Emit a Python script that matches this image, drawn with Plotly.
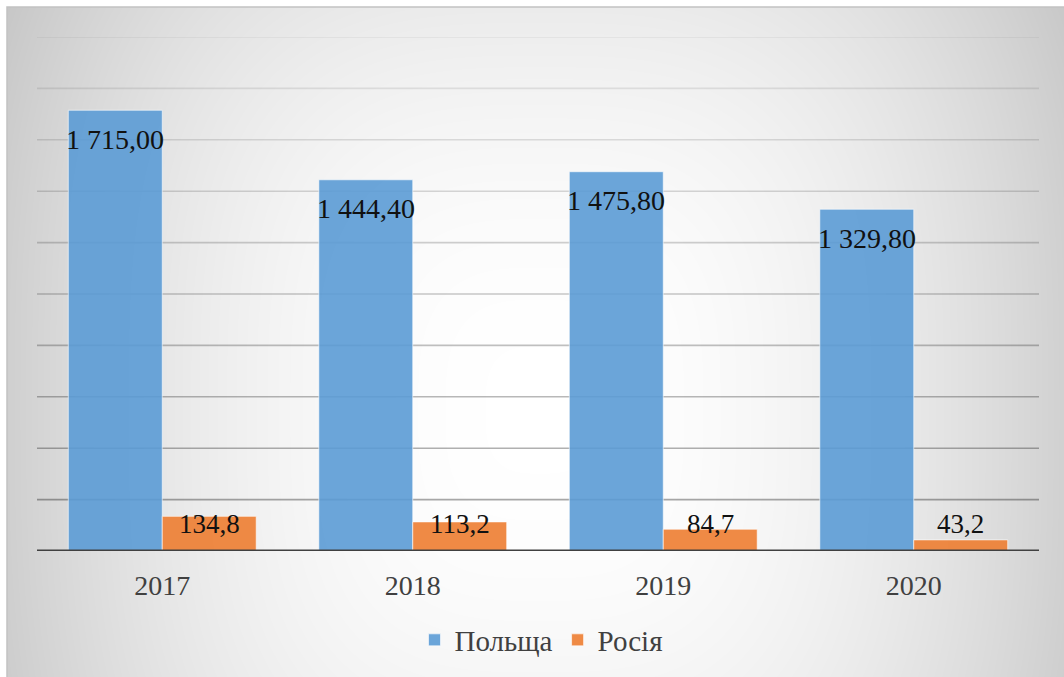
import base64
import struct
import zlib

import numpy as np
import plotly.graph_objects as go

# ---------------- data ----------------
years = ["2017", "2018", "2019", "2020"]
poland = [1715.00, 1444.40, 1475.80, 1329.80]
russia = [134.8, 113.2, 84.7, 43.2]
series_names = ["Польща", "Росія"]
grid_values = [200, 400, 600, 800, 1000, 1200, 1400, 1600, 1800, 2000]

W, H = 1064, 677
FONT = '"Liberation Serif", "Times New Roman", serif'
BLUE = "rgba(91,155,213,0.9)"
ORANGE = "rgba(237,125,49,0.9)"


# ---------------- background gradient image ----------------
def make_png_gray(arr):
    h, w = arr.shape
    raw = b"".join(b"\x00" + bytes(row) for row in arr.astype(np.uint8))

    def chunk(t, d):
        c = struct.pack(">I", len(d)) + t + d
        return c + struct.pack(">I", zlib.crc32(t + d) & 0xFFFFFFFF)

    ihdr = struct.pack(">IIBBBBB", w, h, 8, 0, 0, 0, 0)
    return (b"\x89PNG\r\n\x1a\n" + chunk(b"IHDR", ihdr)
            + chunk(b"IDAT", zlib.compress(raw, 9)) + chunk(b"IEND", b""))


bx0, by0 = 7, 7
bw, bh = W - bx0, H - by0
xs = bx0 + np.arange(bw) + 0.5
ys = by0 + np.arange(bh) + 0.5
X, Y = np.meshgrid(xs, ys)
dx = np.abs(X - 540) / 528
dy = np.abs(Y - 410) / 617
u = (dx ** 3 + dy ** 3) ** (1 / 3)
gray = np.clip(255 - 47 * u ** 2, 190, 255).round()
bg_src = "data:image/png;base64," + base64.b64encode(make_png_gray(gray)).decode()


def fmt_pl(v):
    return f"{v:,.2f}".replace(",", " ").replace(".", ",")


def fmt_ru(v):
    return f"{v:.1f}".replace(".", ",")


fig = go.Figure()
fig.add_trace(go.Bar(
    x=years, y=poland, name=series_names[0],
    marker=dict(color=BLUE, line=dict(color="rgba(255,255,255,0.6)", width=1)),
    hoverinfo="skip",
))
fig.add_trace(go.Bar(
    x=years, y=russia, name=series_names[1],
    marker=dict(color=ORANGE, line=dict(color="rgba(255,255,255,0.6)", width=1)),
    hoverinfo="skip",
))

shapes = []
for v in grid_values:
    a = 0.06 + 0.28 * (2000 - v) / 1800
    shapes.append(dict(type="line", xref="x domain", yref="y", x0=0, x1=1, y0=v, y1=v,
                       line=dict(color=f"rgba(0,0,0,{a:.3f})", width=1.6), layer="below"))
# baseline
shapes.append(dict(type="line", xref="x domain", yref="y", x0=0, x1=1, y0=0, y1=0,
                   line=dict(color="#404040", width=3), layer="above"))
# chart border
shapes.append(dict(type="rect", xref="paper", yref="paper",
                   x0=bx0 / W, x1=1.05, y0=-0.05, y1=1 - by0 / H,
                   line=dict(color="#c2c2c2", width=1.5), layer="above"))

annotations = []
for i, v in enumerate(poland):
    annotations.append(dict(x=i - 0.1875, y=v, xref="x", yref="y", text=fmt_pl(v),
                            showarrow=False, yanchor="middle", yshift=-29,
                            font=dict(family=FONT, size=28, color="#111111")))
for i, v in enumerate(russia):
    annotations.append(dict(x=i + 0.1875, y=0, xref="x", yref="y", text=fmt_ru(v),
                            showarrow=False, yanchor="middle", yshift=27,
                            font=dict(family=FONT, size=27, color="#111111")))

fig.update_layout(
    width=W, height=H,
    margin=dict(l=0, r=0, t=0, b=0),
    paper_bgcolor="white",
    plot_bgcolor="rgba(0,0,0,0)",
    font=dict(family=FONT),
    barmode="group", bargap=0.25, bargroupgap=0,
    images=[dict(source=bg_src, xref="paper", yref="paper", x=bx0 / W, y=1 - by0 / H,
                 sizex=bw / W, sizey=bh / H, sizing="stretch", xanchor="left",
                 yanchor="top", layer="below")],
    xaxis=dict(domain=[37 / W, 1039 / W], showgrid=False, showline=False, ticks="",
               tickfont=dict(family=FONT, size=28, color="#404040"),
               ticklabelstandoff=15, zeroline=False),
    yaxis=dict(domain=[(H - 551) / H, (H - 37) / H], range=[0, 2000], showgrid=False,
               showticklabels=False, zeroline=False, showline=False, ticks=""),
    legend=dict(orientation="h", x=541 / W, xanchor="center", y=(H - 640) / H,
                yanchor="middle", font=dict(family=FONT, size=29, color="#404040"),
                bgcolor="rgba(0,0,0,0)", itemclick=False, itemdoubleclick=False),
    shapes=shapes,
    annotations=annotations,
    showlegend=True,
)

fig.write_html(
    "out.html",
    config={"displayModeBar": False, "staticPlot": True},
    post_script="document.body.style.margin='0px';document.body.style.overflow='hidden';",
)
